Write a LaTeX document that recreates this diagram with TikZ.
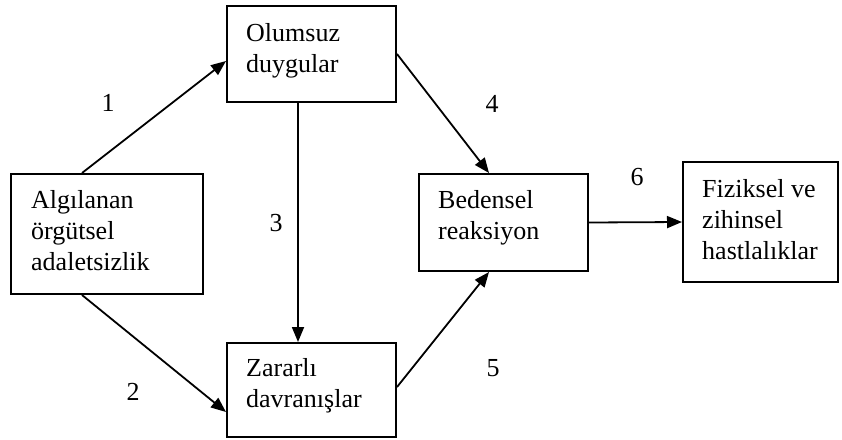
\documentclass[tikz,border=0pt]{standalone}
\usepackage{fontspec}
\setmainfont{Liberation Serif}
\usetikzlibrary{arrows.meta}
\begin{document}
\begin{tikzpicture}[x=1pt,y=-1pt,
  box/.style={draw,line width=2pt,rectangle,inner sep=0pt},
  txt/.style={anchor=north west,inner sep=0pt,align=left,
    font=\fontsize{26}{31}\selectfont},
  num/.style={inner sep=0pt,font=\fontsize{26}{31}\selectfont},
  arr/.style={line width=1.8pt,-{Triangle[length=15pt,width=12pt]}}]
\useasboundingbox (0,0) rectangle (842,439);

% boxes
\node[box,minimum width=192pt,minimum height=120pt] (alg) at (107,234) {};
\node[box,minimum width=169pt,minimum height=96pt]  (olu) at (311.5,54) {};
\node[box,minimum width=169pt,minimum height=94pt]  (zar) at (311.5,390) {};
\node[box,minimum width=169pt,minimum height=97pt]  (bed) at (503.5,222.5) {};
\node[box,minimum width=155pt,minimum height=120pt] (fiz) at (760.5,222) {};

% box texts
\node[txt] (talg) at ([xshift=21pt,yshift=-17pt]alg.north west) {Algılanan\\örgütsel\\adaletsizlik};
\node[txt] (tolu) at ([xshift=20pt,yshift=-18pt]olu.north west) {Olumsuz\\duygular};
\node[txt] (tzar) at ([xshift=20pt,yshift=-16pt]zar.north west) {Zararlı\\davranışlar};
\node[txt] (tbed) at ([xshift=20pt,yshift=-17pt]bed.north west) {Bedensel\\reaksiyon};
\node[txt] (tfiz) at ([xshift=20pt,yshift=-18pt]fiz.north west) {Fiziksel ve\\zihinsel\\hastlalıklar};

% connectors
\draw[arr] ([xshift=72pt]alg.north west) -- ([yshift=-56pt]olu.north west);
\draw[arr] ([xshift=72pt]alg.south west) -- ([yshift=-70pt]zar.north west);
\draw[arr] ([xshift=72pt]olu.south west) -- ([xshift=72pt]zar.north west);
\draw[arr] ([yshift=-49pt]olu.north east) -- ([xshift=71pt]bed.north west);
\draw[arr] ([yshift=-45pt]zar.north east) -- ([xshift=71pt]bed.south west);
\draw[arr] (bed.east) -- (fiz.west);

% connector numbers
\node[num] (n1) at (108,103) {1};
\node[num] (n2) at (133,392) {2};
\node[num] (n3) at (276,223) {3};
\node[num] (n4) at (492,104) {4};
\node[num] (n5) at (493,368) {5};
\node[num] (n6) at (637,177) {6};
\end{tikzpicture}
\end{document}
